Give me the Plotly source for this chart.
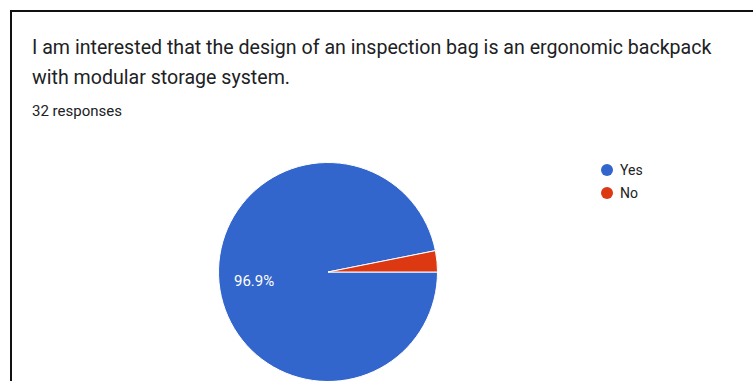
import plotly.graph_objects as go

# Survey answers
categories = ["Yes", "No"]
counts = [31, 1]
colors = ["#3366cc", "#dc3912"]
question_lines = [
    "I am interested that the design of an inspection bag is an ergonomic backpack",
    "with modular storage system.",
]
total = sum(counts)
subtitle = f"{total} responses"

W, H = 753, 420  # canvas taller than the view so the pie runs off the bottom edge


def fx(px):
    return px / W


def fy(py):
    return 1 - py / H


cx, cy, r = 328, 272, 109.5
FONT = "Roboto, Arial, sans-serif"

fig = go.Figure()
fig.add_trace(go.Pie(
    labels=categories,
    values=counts,
    sort=False,
    direction="clockwise",
    rotation=90,
    marker=dict(colors=colors, line=dict(color="white", width=1)),
    textinfo="none",
    showlegend=False,
    hoverinfo="label+percent",
    domain=dict(x=[fx(cx - r), fx(cx + r)], y=[fy(cy + r), fy(cy - r)]),
))

annotations = []
line_y = [47, 77]
for text, y in zip(question_lines, line_y):
    annotations.append(dict(
        text=text, x=fx(30), y=fy(y), xref="paper", yref="paper",
        xanchor="left", yanchor="middle", showarrow=False,
        font=dict(family=FONT, size=19.6, color="#202124"),
    ))
annotations.append(dict(
    text=subtitle, x=fx(30), y=fy(111), xref="paper", yref="paper",
    xanchor="left", yanchor="middle", showarrow=False,
    font=dict(family=FONT, size=15, color="#202124"),
))

# Percentage label inside the large slice
share_yes = counts[0] / total * 100
annotations.append(dict(
    text=f"{share_yes:.1f}%", x=fx(254), y=fy(281), xref="paper", yref="paper",
    xanchor="center", yanchor="middle", showarrow=False,
    font=dict(family=FONT, size=15, color="white"),
))

# Legend: colored dots with labels
shapes = []
leg_x, leg_y0, leg_dy, dot_r = 607, 170, 23, 6
for i, (name, col) in enumerate(zip(categories, colors)):
    y = leg_y0 + i * leg_dy
    shapes.append(dict(
        type="circle", xref="paper", yref="paper",
        x0=fx(leg_x - dot_r), x1=fx(leg_x + dot_r),
        y0=fy(y + dot_r), y1=fy(y - dot_r),
        fillcolor=col, line=dict(width=0),
    ))
    annotations.append(dict(
        text=name, x=fx(leg_x + 11), y=fy(y), xref="paper", yref="paper",
        xanchor="left", yanchor="middle", showarrow=False,
        font=dict(family=FONT, size=14, color="#222222"),
    ))

# Card frame
shapes.append(dict(
    type="rect", xref="paper", yref="paper",
    x0=fx(11), x1=fx(W + 20), y0=fy(H + 20), y1=fy(11),
    line=dict(color="#111111", width=2), fillcolor="rgba(0,0,0,0)",
))

fig.update_layout(
    width=W, height=H,
    margin=dict(l=0, r=0, t=0, b=0),
    paper_bgcolor="white", plot_bgcolor="white",
    annotations=annotations, shapes=shapes,
)

fig.write_html("out.html")
